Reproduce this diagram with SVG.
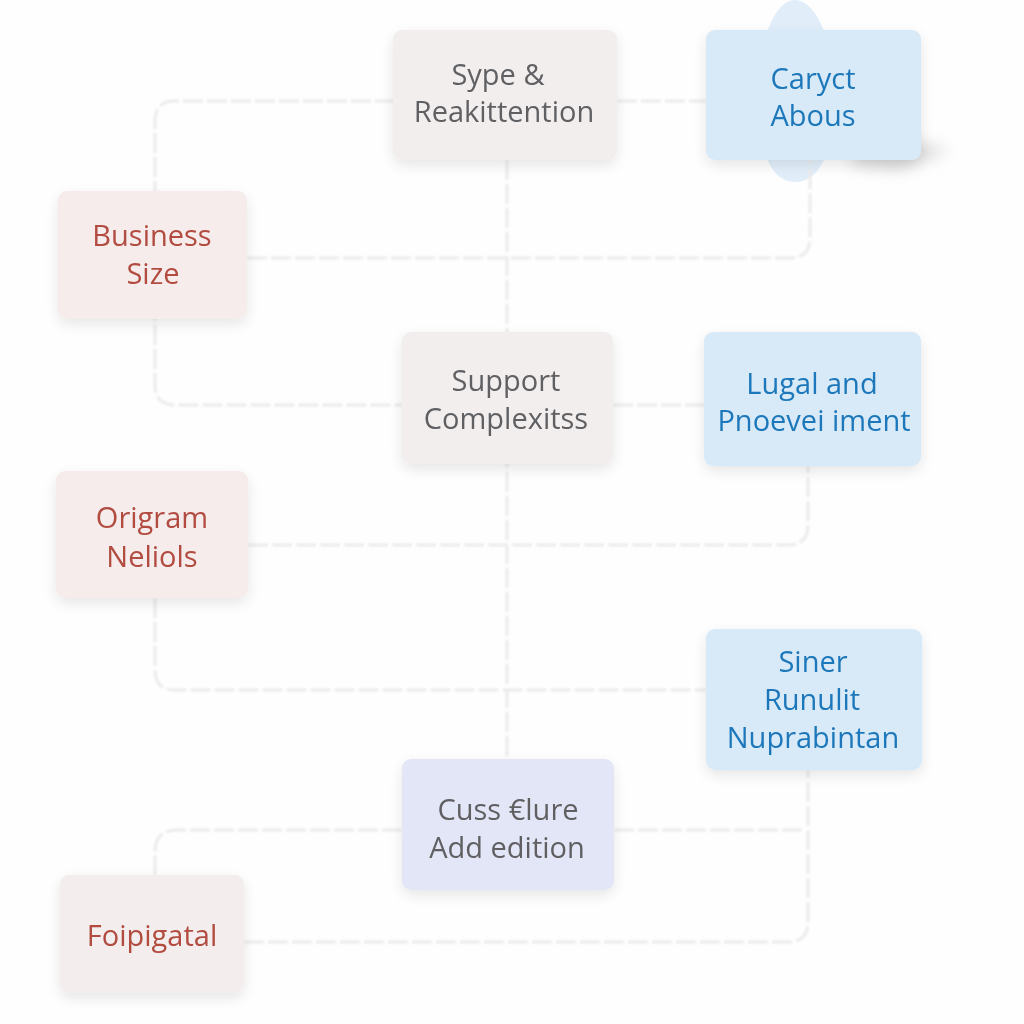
<svg xmlns="http://www.w3.org/2000/svg" width="1024" height="1024" viewBox="0 0 1024 1024">
<defs>
<filter id="sh" x="-20%" y="-20%" width="140%" height="150%">
<feGaussianBlur in="SourceAlpha" stdDeviation="7"/>
<feOffset dy="5"/>
<feComponentTransfer><feFuncA type="linear" slope="0.1"/></feComponentTransfer>
<feMerge><feMergeNode/><feMergeNode in="SourceGraphic"/></feMerge>
</filter>
<filter id="soft" x="-20%" y="-20%" width="140%" height="140%"><feGaussianBlur stdDeviation="1"/></filter>
<filter id="blur8" x="-50%" y="-50%" width="200%" height="200%"><feGaussianBlur stdDeviation="8"/></filter>
<style>
.box{filter:url(#sh)}
.gray rect{fill:#f1eeed}
.blue rect{fill:#d8e9f7}
.red rect{fill:#f5eceb}
.lav rect{fill:#e3e6f6}
text{font-family:"Open Sans","Noto Sans","Liberation Sans",sans-serif;font-size:29px;text-anchor:middle}
.gray text,.lav text{fill:#606064}
.blue text{fill:#1c78ba}
.red text{fill:#b24b40}
.conn path{fill:none;stroke:#ebebeb;stroke-width:3;stroke-dasharray:20 4}
</style>
</defs>
<rect width="1024" height="1024" fill="#fefefe"/>
<g id="decor">
<path d="M795,0 C815,0 835,40 835,95 C835,150 820,182 795,182 C770,182 758,150 758,95 C758,40 775,0 795,0 Z" fill="#e1eefa"/>
<path d="M860,130 L950,150 L900,170 L850,165 Z" fill="#d8d8d8" filter="url(#blur8)"/>
</g>
<g class="conn" id="connectors" filter="url(#soft)">
<path d="M395,101 H175 Q155,101 155,121 V385 Q155,405 175,405 H402"/>
<path d="M617,101 H706"/>
<path d="M613,405 H704"/>
<path d="M247,258 H790 Q810,258 810,238 V160"/>
<path d="M507,160 V759"/>
<path d="M248,545 H788 Q808,545 808,525 V466"/>
<path d="M155,598 V670 Q155,690 175,690 H706"/>
<path d="M402,830 H177 Q155,830 155,852 V875"/>
<path d="M614,830 H804"/>
<path d="M244,942 H788 Q808,942 808,922 V770"/>
</g>
<g id="n-sype" class="box gray"><rect x="393" y="30" width="224" height="130" rx="9"/><text x="498" y="85">Sype &amp;</text><text x="504" y="122">Reakittention</text></g>
<g id="n-caryct" class="box blue"><rect x="706" y="30" width="215" height="130" rx="9"/><text x="813" y="89">Caryct</text><text x="813" y="126">Abous</text></g>
<g id="n-business" class="box red"><rect x="58" y="191" width="189" height="128" rx="9"/><text x="152" y="246">Business</text><text x="153" y="284">Size</text></g>
<g id="n-support" class="box gray"><rect x="402" y="332" width="211" height="132" rx="9"/><text x="506" y="391">Support</text><text x="506" y="429">Complexitss</text></g>
<g id="n-lugal" class="box blue"><rect x="704" y="332" width="217" height="134" rx="9"/><text x="812" y="394">Lugal and</text><text x="814" y="431">Pnoevei iment</text></g>
<g id="n-origram" class="box red"><rect x="56" y="471" width="192" height="127" rx="9"/><text x="152" y="528">Origram</text><text x="152" y="567">Neliols</text></g>
<g id="n-siner" class="box blue"><rect x="706" y="629" width="216" height="141" rx="9"/><text x="813" y="672">Siner</text><text x="812" y="710">Runulit</text><text x="813" y="748">Nuprabintan</text></g>
<g id="n-cuss" class="box lav"><rect x="402" y="759" width="212" height="131" rx="9"/><text x="508" y="820">Cuss €lure</text><text x="507" y="858">Add edition</text></g>
<g id="n-foipigatal" class="box red"><rect x="60" y="875" width="184" height="118" rx="9" style="fill:#f3eded"/><text x="152" y="946">Foipigatal</text></g>
</svg>
